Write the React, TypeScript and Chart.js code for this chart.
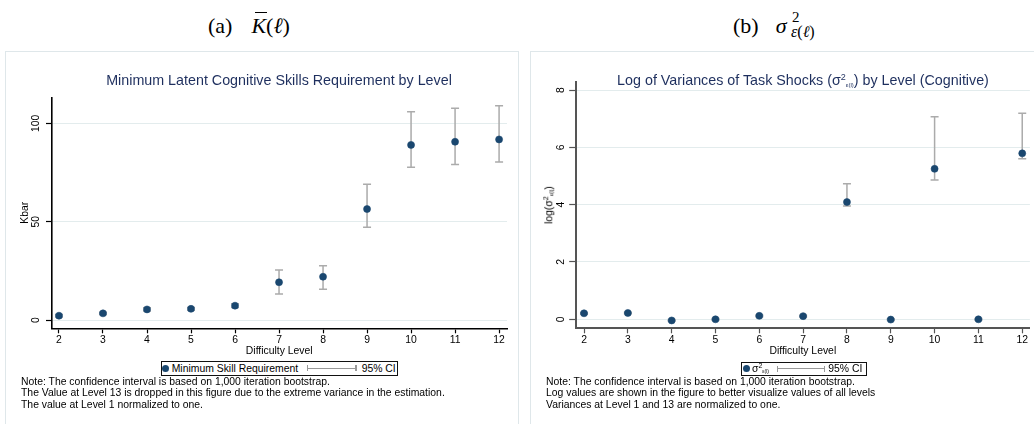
import React, { useEffect, useRef } from "react";
import { Chart, registerables } from "chart.js";

Chart.register(...registerables);

// ---------------- data ----------------
const levels = [2, 3, 4, 5, 6, 7, 8, 9, 10, 11, 12];
const kbarValues = [2.2, 3.4, 5.4, 5.7, 7.3, 19.2, 22.0, 56.4, 89.0, 90.6, 91.8];
const kbarLower = [1.6, 2.8, 4.6, 5.0, 6.4, 13.2, 15.6, 47.1, 77.6, 79.0, 80.3];
const kbarUpper = [2.8, 4.0, 6.2, 6.4, 8.3, 25.4, 27.6, 69.0, 105.9, 107.6, 108.9];

const logVarValues = [0.21, 0.22, -0.04, 0.0, 0.12, 0.11, 4.09, -0.01, 5.25, 0.0, 5.79];
const logVarLower = [0.18, 0.19, -0.07, -0.03, 0.09, 0.08, 3.95, -0.04, 4.86, -0.03, 5.6];
const logVarUpper = [0.24, 0.25, -0.01, 0.03, 0.15, 0.14, 4.73, 0.02, 7.07, 0.03, 7.19];

const xTickValues = [2, 3, 4, 5, 6, 7, 8, 9, 10, 11, 12];
const kbarTickValues = [0, 50, 100];
const logVarTickValues = [0, 2, 4, 6, 8];

// ---------------- style ----------------
const SANS = "'Liberation Sans', Arial, Helvetica, sans-serif";
const SERIF = "'Liberation Serif', 'DejaVu Serif', 'Times New Roman', serif";
const NAVY = "#1a476f";
const TITLE_COLOR = "#1e2f5e";
const CI_GRAY = "#ababab";
const GRID = "#e3eced";
const BOX = "#dfe7ea";
const FS = 10.4;

function ciPlugin(xs: number[], lo: number[], hi: number[]) {
  return {
    id: "ciBars",
    beforeDatasetsDraw(chart: any) {
      const { ctx, scales } = chart;
      const sx = scales.x;
      const sy = scales.y;
      ctx.save();
      ctx.strokeStyle = CI_GRAY;
      ctx.lineWidth = 1.5;
      const cap = 4;
      xs.forEach((v, i) => {
        const px = sx.getPixelForValue(v);
        const y1 = sy.getPixelForValue(lo[i]);
        const y2 = sy.getPixelForValue(hi[i]);
        ctx.beginPath();
        ctx.moveTo(px, y1);
        ctx.lineTo(px, y2);
        ctx.moveTo(px - cap, y1);
        ctx.lineTo(px + cap, y1);
        ctx.moveTo(px - cap, y2);
        ctx.lineTo(px + cap, y2);
        ctx.stroke();
      });
      ctx.restore();
    },
  };
}

interface Cfg {
  label: string;
  values: number[];
  lower: number[];
  upper: number[];
  yTicks: number[];
  yMin: number;
  yMax: number;
  xMin: number;
  xMax: number;
  padding: { top: number; right: number; bottom: number; left: number };
  yWidth: number;
  yTickLen: number;
  yTickPad: number;
  yTitle: string | null;
  yTitlePad: number;
  axisColor: string;
  axisWidth: number;
}

function makeConfig(c: Cfg): any {
  const font = { family: SANS, size: FS };
  return {
    type: "scatter",
    data: {
      datasets: [
        {
          label: c.label,
          data: levels.map((x, i) => ({ x, y: c.values[i] })),
          backgroundColor: NAVY,
          borderColor: NAVY,
          borderWidth: 0.6,
          pointRadius: 3.5,
          pointHoverRadius: 3.5,
        },
      ],
    },
    options: {
      responsive: false,
      animation: false,
      devicePixelRatio: 1,
      events: [],
      layout: { padding: c.padding },
      plugins: {
        legend: { display: false },
        title: { display: false },
        tooltip: { enabled: false },
      },
      scales: {
        x: {
          type: "linear",
          min: c.xMin,
          max: c.xMax,
          afterBuildTicks: (s: any) => {
            s.ticks = xTickValues.map((v) => ({ value: v }));
          },
          afterFit: (s: any) => {
            s.height = 40;
          },
          grid: {
            drawOnChartArea: false,
            drawTicks: true,
            tickLength: 5,
            tickColor: c.axisColor,
            tickWidth: 1.2,
          },
          border: { display: true, color: c.axisColor, width: c.axisWidth },
          ticks: {
            padding: 0.5,
            color: "#000",
            font,
            maxRotation: 0,
            minRotation: 0,
            autoSkip: false,
          },
          title: {
            display: true,
            text: "Difficulty Level",
            color: "#000",
            font,
            padding: { top: 0, bottom: 11 },
          },
        },
        y: {
          type: "linear",
          min: c.yMin,
          max: c.yMax,
          afterBuildTicks: (s: any) => {
            s.ticks = c.yTicks.map((v) => ({ value: v }));
          },
          afterFit: (s: any) => {
            s.width = c.yWidth;
          },
          grid: {
            color: GRID,
            lineWidth: 1,
            drawTicks: true,
            tickLength: c.yTickLen,
            tickColor: c.axisColor,
            tickWidth: 1.2,
          },
          border: { display: true, color: c.axisColor, width: c.axisWidth },
          ticks: {
            padding: c.yTickPad,
            minRotation: 90,
            maxRotation: 90,
            crossAlign: "center",
            color: "#000",
            font,
          },
          title: {
            display: !!c.yTitle,
            text: c.yTitle || "",
            color: "#000",
            font,
            padding: { top: c.yTitlePad, bottom: 0 },
          },
        },
      },
    },
    plugins: [ciPlugin(levels, c.lower, c.upper)],
  };
}

function ChartCanvas(props: { left: number; top: number; width: number; height: number; cfg: Cfg }) {
  const ref = useRef<HTMLCanvasElement>(null);
  useEffect(() => {
    const chart = new Chart(ref.current as HTMLCanvasElement, makeConfig(props.cfg));
    return () => chart.destroy();
  }, []);
  return (
    <canvas
      ref={ref}
      width={props.width}
      height={props.height}
      style={{ position: "absolute", left: props.left, top: props.top, width: props.width, height: props.height }}
    />
  );
}

function Txt(props: {
  x: number;
  base: number;
  size: number;
  family?: string;
  center?: boolean;
  color?: string;
  italic?: boolean;
  children: any;
}) {
  const family = props.family || SANS;
  const k = family === SERIF ? 0.8375 : 0.8465;
  return (
    <div
      style={{
        position: "absolute",
        left: props.x,
        top: props.base - k * props.size,
        fontFamily: family,
        fontSize: props.size,
        lineHeight: props.size + "px",
        whiteSpace: "nowrap",
        color: props.color || "#000",
        fontStyle: props.italic ? "italic" : "normal",
        transform: props.center ? "translateX(-50%)" : undefined,
      }}
    >
      {props.children}
    </div>
  );
}

function SigmaSym(props: { sup: number; sub: number; supUp: number; subDown: number }) {
  return (
    <span>
      σ
      <span style={{ fontSize: props.sup, position: "relative", top: -props.supUp }}>2</span>
      <span style={{ fontSize: props.sub, position: "relative", top: props.subDown }}>ε(l)</span>
    </span>
  );
}

function Legend(props: { left: number; top: number; width: number; label: any; lineX1: number; lineX2: number; ciX: number; textX: number }) {
  const h = 14.6;
  const b = 1.3;
  const cy = h / 2 - b;
  return (
    <div
      style={{
        position: "absolute",
        left: props.left,
        top: props.top,
        width: props.width,
        height: h,
        boxSizing: "border-box",
        border: `${b}px solid #111`,
        background: "#fff",
      }}
    >
      <div
        style={{
          position: "absolute",
          left: 0.5,
          top: cy - 3.5,
          width: 7,
          height: 7,
          borderRadius: "50%",
          background: NAVY,
        }}
      />
      <Txt x={props.textX} base={10.2} size={FS}>
        {props.label}
      </Txt>
      <div style={{ position: "absolute", left: props.lineX1, top: cy - 0.6, width: props.lineX2 - props.lineX1, height: 1.2, background: "#999" }} />
      <div style={{ position: "absolute", left: props.lineX1, top: cy - 3, width: 1.2, height: 6, background: "#999" }} />
      <div style={{ position: "absolute", left: props.lineX2 - 1.2, top: cy - 3, width: 1.2, height: 6, background: "#999" }} />
      <Txt x={props.ciX} base={10.2} size={FS}>
        95% CI
      </Txt>
    </div>
  );
}

const cfgA: Cfg = {
  label: "Minimum Skill Requirement",
  values: kbarValues,
  lower: kbarLower,
  upper: kbarUpper,
  yTicks: kbarTickValues,
  yMin: -4.2,
  yMax: 113.2,
  xMin: 1.83,
  xMax: 12.18,
  padding: { top: 45.3, right: 11, bottom: 55.7, left: 0 },
  yWidth: 45.5,
  yTickLen: 5.5,
  yTickPad: 1.5,
  yTitle: "Kbar",
  yTitlePad: 12.8,
  axisColor: "#000",
  axisWidth: 1.6,
};

const cfgB: Cfg = {
  label: "σ2ε(l)",
  values: logVarValues,
  lower: logVarLower,
  upper: logVarUpper,
  yTicks: logVarTickValues,
  yMin: -0.314,
  yMax: 8.28,
  xMin: 1.81,
  xMax: 12.175,
  padding: { top: 30, right: 3, bottom: 55.7, left: 0 },
  yWidth: 44.7,
  yTickLen: 6.5,
  yTickPad: 4.8,
  yTitle: null,
  yTitlePad: 0,
  axisColor: "#555",
  axisWidth: 2,
};

export default function App() {
  return (
    <div style={{ position: "absolute", left: 0, top: 0, width: 1034, height: 424, overflow: "hidden", background: "#fff" }}>
      {/* panel headings */}
      <Txt x={208} base={33} size={22} family={SERIF}>
        (a)
        <span style={{ display: "inline-block", width: 19 }} />
        <span style={{ fontStyle: "italic", position: "relative", display: "inline-block" }}>
          K
          <span style={{ position: "absolute", left: 4, top: -2.5, width: 12, height: 1.2, background: "#000" }} />
        </span>
        (<span style={{ fontStyle: "italic" }}>ℓ</span>)
      </Txt>
      <Txt x={733} base={33} size={22} family={SERIF}>
        (b)
        <span style={{ display: "inline-block", width: 17 }} />
        <span style={{ fontStyle: "italic" }}>σ</span>
      </Txt>
      <Txt x={792} base={23} size={15} family={SERIF}>
        2
      </Txt>
      <Txt x={791} base={37} size={16} family={SERIF} italic>
        ε<span style={{ fontStyle: "normal" }}>(</span>ℓ<span style={{ fontStyle: "normal" }}>)</span>
      </Txt>

      {/* panel boxes */}
      <div style={{ position: "absolute", left: 5, top: 51, width: 514, height: 400, border: `1px solid ${BOX}`, boxSizing: "border-box" }} />
      <div style={{ position: "absolute", left: 530, top: 51, width: 520, height: 400, border: `1px solid ${BOX}`, boxSizing: "border-box" }} />

      <ChartCanvas left={6} top={52} width={512} height={372} cfg={cfgA} />
      <ChartCanvas left={531} top={52} width={503} height={372} cfg={cfgB} />

      {/* chart titles */}
      <Txt x={279} base={85.2} size={14.3} center color={TITLE_COLOR}>
        Minimum Latent Cognitive Skills Requirement by Level
      </Txt>
      <Txt x={803} base={85.2} size={14.3} center color={TITLE_COLOR}>
        Log of Variances of Task Shocks (<SigmaSym sup={9} sub={6} supUp={5} subDown={2} />) by Level (Cognitive)
      </Txt>

      {/* y title of panel b (rotated) */}
      <div
        style={{
          position: "absolute",
          left: 550,
          top: 205,
          transform: "translate(-50%, -50%) rotate(-90deg)",
          fontFamily: SANS,
          fontSize: FS,
          lineHeight: FS + "px",
          whiteSpace: "nowrap",
          color: "#000",
        }}
      >
        log(<SigmaSym sup={7} sub={5} supUp={4} subDown={1} />)
      </div>

      {/* legends */}
      <Legend left={160.7} top={361.2} width={237.5} label="Minimum Skill Requirement" textX={10} lineX1={145.6} lineX2={195} ciX={200} />
      <Legend
        left={741}
        top={361.5}
        width={126}
        label={<SigmaSym sup={7} sub={5} supUp={4} subDown={1.5} />}
        textX={10}
        lineX1={34.7}
        lineX2={83}
        ciX={86.3}
      />

      {/* notes */}
      <div style={{ position: "absolute", left: 21, top: 375.5, fontFamily: SANS, fontSize: FS, lineHeight: "11.6px", color: "#000", whiteSpace: "nowrap" }}>
        <div>Note: The confidence interval is based on 1,000 iteration bootstrap.</div>
        <div>The Value at Level 13 is dropped in this figure due to the extreme variance in the estimation.</div>
        <div>The value at Level 1 normalized to one.</div>
      </div>
      <div style={{ position: "absolute", left: 546, top: 375.5, fontFamily: SANS, fontSize: FS, lineHeight: "11.6px", color: "#000", whiteSpace: "nowrap" }}>
        <div>Note: The confidence interval is based on 1,000 iteration bootstrap.</div>
        <div>Log values are shown in the figure to better visualize values of all levels</div>
        <div>Variances at Level 1 and 13 are normalized to one.</div>
      </div>
    </div>
  );
}
